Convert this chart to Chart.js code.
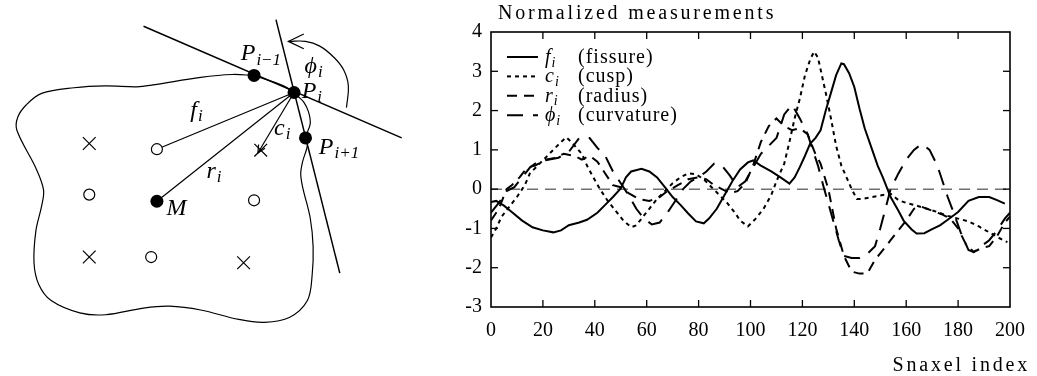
<!DOCTYPE html>
<html>
<head>
<meta charset="utf-8">
<script src="https://cdn.jsdelivr.net/npm/chart.js@4.4.0/dist/chart.umd.min.js"></script>
<style>
  body { margin: 0; background: #fff; }
  #wrap { position: relative; width: 1037px; height: 376px; }
  .pane { position: absolute; top: 0; height: 376px; }
</style>
</head>
<body>
<div id="wrap">
  <div class="pane" style="left:0;width:430px"><canvas id="diagram"></canvas></div>
  <div class="pane" style="left:430px;width:607px"><canvas id="plot"></canvas></div>
</div>
<script>
// ---- right plot: normalized measurements per snaxel index ----
const fissure = [[0,-0.33],[2,-0.3],[5,-0.42],[8,-0.58],[12,-0.8],[16,-0.97],[20,-1.05],[24,-1.1],[27,-1.05],[30,-0.92],[34,-0.85],[37,-0.78],[41,-0.6],[44,-0.4],[47,-0.2],[50,0.02],[52,0.3],[54,0.45],[58,0.52],[61,0.45],[64,0.3],[67,0.05],[70,-0.2],[73,-0.4],[76,-0.62],[79,-0.82],[82,-0.87],[84,-0.75],[87,-0.5],[90,-0.15],[93,0.2],[96,0.5],[99,0.68],[101,0.73],[104,0.6],[108,0.45],[112,0.28],[115,0.14],[117,0.3],[119,0.56],[121,0.85],[123,1.16],[125,1.3],[127,1.5],[129,2.0],[131,2.45],[133,2.9],[135,3.2],[136,3.18],[138,2.95],[140,2.6],[142,2.05],[144,1.55],[147,0.98],[149,0.6],[151,0.3],[154,-0.2],[157,-0.55],[159,-0.8],[162,-1.02],[164,-1.13],[167,-1.12],[170,-1.02],[173,-0.92],[176,-0.78],[180,-0.58],[184,-0.3],[188,-0.2],[192,-0.2],[195,-0.28],[198,-0.37]];
const cusp = [[0,-1.23],[2,-1.0],[4,-0.71],[7,-0.45],[10,-0.2],[13,0.1],[15,0.4],[18,0.6],[21,0.8],[24,1.0],[27,1.2],[29,1.32],[31,1.2],[33,1.05],[35,0.9],[37,0.6],[39,0.35],[42,0.0],[45,-0.3],[48,-0.55],[51,-0.8],[54,-0.97],[56,-0.92],[58,-0.75],[61,-0.5],[64,-0.25],[67,-0.05],[70,0.15],[73,0.3],[76,0.4],[79,0.38],[82,0.25],[85,0.05],[88,-0.15],[91,-0.35],[94,-0.6],[96,-0.8],[99,-0.95],[102,-0.75],[105,-0.5],[108,-0.15],[110,0.2],[113,0.65],[115,1.2],[117,1.8],[119,2.3],[121,2.9],[123,3.3],[124.5,3.5],[126,3.35],[127.5,2.9],[129,2.45],[131,1.8],[133,1.1],[135,0.6],[137,0.3],[139,0.0],[141,-0.25],[143,-0.25],[147,-0.2],[151,-0.15],[154,-0.12],[157,-0.28],[160,-0.35],[164,-0.42],[168,-0.5],[172,-0.58],[176,-0.68],[180,-0.75],[184,-0.82],[188,-0.95],[192,-1.1],[196,-1.25],[199,-1.35]];
const radius = [[0,-0.8],[3,-0.5],[6,0.0],[8,0.1],[11,0.3],[14,0.55],[17,0.6],[21,0.75],[25,0.8],[28,0.9],[32,0.85],[35,0.75],[38,0.85],[41,0.7],[44,0.4],[47,0.1],[50,0.05],[53,-0.1],[57,-0.25],[61,-0.3],[65,-0.2],[68,-0.05],[72,0.1],[76,0.25],[80,0.3],[83,0.25],[86,0.1],[89,0.0],[92,-0.1],[95,-0.05],[98,0.15],[101,0.6],[104,1.2],[107,1.6],[110,1.8],[113,1.6],[116,1.5],[119,1.55],[122,1.4],[125,0.9],[127,0.65],[130,0.0],[133,-1.0],[136,-1.7],[139,-2.1],[142,-2.15],[145,-2.15],[148,-1.8],[151,-1.55],[154,-1.3],[157,-1.05],[160,-0.8],[163,-0.5],[166,-0.45],[170,-0.55],[174,-0.65],[177,-0.75],[180,-1.0],[183,-1.4],[186,-1.6],[189,-1.5],[192,-1.45],[195,-1.2],[198,-0.85],[200,-0.7]];
const curvature = [[0,-0.6],[3,-0.35],[6,-0.05],[9,0.05],[12,0.3],[15,0.55],[18,0.7],[22,0.75],[26,0.8],[30,0.95],[34,1.3],[38,1.3],[41,1.05],[44,0.85],[47,0.45],[50,0.15],[53,-0.15],[56,-0.5],[59,-0.75],[62,-0.9],[65,-0.85],[68,-0.6],[71,-0.3],[74,0.0],[77,0.2],[80,0.3],[83,0.45],[86,0.65],[89,0.6],[92,0.35],[95,0.05],[98,0.2],[101,0.55],[104,0.9],[107,1.1],[110,1.3],[113,1.9],[116,2.15],[119,1.8],[122,1.4],[124,1.0],[126,0.6],[128,0.1],[131,-0.6],[134,-1.3],[136,-1.7],[139,-1.75],[142,-1.75],[145,-1.65],[148,-1.45],[150,-1.0],[152,-0.5],[154,0.0],[157,0.4],[160,0.75],[163,1.0],[166,1.15],[169,1.0],[172,0.6],[174,0.2],[176,-0.2],[178,-0.55],[181,-1.1],[184,-1.55],[186,-1.6],[189,-1.45],[192,-1.3],[195,-1.05],[198,-0.75],[200,-0.6]];
const zeroLevel = [[0,0],[200,0]];
const indexTicks = [0, 20, 40, 60, 80, 100, 120, 140, 160, 180, 200];
const valueTicks = [-3, -2, -1, 0, 1, 2, 3, 4];
const seriesSymbols = ['f', 'c', 'r', '\u03d5'];
const seriesNames = ['(fissure)', '(cusp)', '(radius)', '(curvature)'];

// ---- left diagram: snaxel geometry, in the diagram's own units ----
const blobOutline = [[256,69],[233,68],[200,71],[150,79],[133,81],[100,80],[67,82],[33,88],[17,100],[8,113],[7,127],[27,167],[35,190],[33,207],[27,233],[25,267],[30,290],[43,307],[73,320],[100,322],[140,315],[167,313],[200,317],[240,327],[267,330],[293,325],[312,307],[317,280],[318,250],[315,220],[307,187],[305,173],[307,160],[312,143],[310,135],[315,120],[313,107],[308,97],[302,91],[298,87],[287,80],[256,69]];
const tangentPrev = [[140,17],[411,135]];
const tangentNext = [[279,10],[346,278]];
const snaxelDots = [[256,69],[298,87],[310,135],[154,202]];
const openCircles = [[154,147],[83,195],[256,201],[148,261]];
const crossMarks = [[83,141],[263,148],[83,261],[245,267]];
const fissureRay = [[298,87],[154,147]];
const radiusRay = [[298,87],[154,202]];
const cuspRay = [[298,87],[260,151]];
const angleArc = [[353,103],[355,80],[350,63],[340,50],[325,38],[310,33],[292,33]];
const diagramLabels = [
  ['P', 'i\u22121', 242, 53],
  ['\u03d5', 'i', 309, 66],
  ['P', 'i', 306, 93],
  ['f', 'i', 189, 113],
  ['c', 'i', 277, 132],
  ['P', 'i+1', 324, 152],
  ['r', 'i', 206, 177],
  ['M', '', 164, 217]
];

const SERIF = '"Liberation Serif", "DejaVu Serif", serif';

function pairs(list) {
  return list.map(([x, y]) => ({ x, y }));
}

function arrowHead(tip, from, len) {
  const ang = Math.atan2(from[1] - tip[1], from[0] - tip[0]);
  const spread = 0.45;
  return [
    [tip[0] + len * Math.cos(ang + spread), tip[1] + len * Math.sin(ang + spread)],
    tip,
    [tip[0] + len * Math.cos(ang - spread), tip[1] + len * Math.sin(ang - spread)]
  ];
}

function drawSymbol(ctx, x, y, main, sub, size) {
  ctx.font = `italic ${size}px ${SERIF}`;
  ctx.textAlign = 'left';
  ctx.textBaseline = 'alphabetic';
  ctx.fillText(main, x, y);
  if (!sub) return;
  const w = ctx.measureText(main).width;
  ctx.font = `italic ${Math.round(size * 0.7)}px ${SERIF}`;
  ctx.fillText(sub, x + w + 1, y + size * 0.18);
}

function strokeSeg(ctx, x1, y1, x2, y2) {
  ctx.beginPath();
  ctx.moveTo(x1, y1);
  ctx.lineTo(x2, y2);
  ctx.stroke();
}

// ---------- diagram ----------
function lineSet(points, width, tension) {
  return {
    data: pairs(points), showLine: true, pointRadius: 0,
    borderColor: '#000', borderWidth: width, tension: tension || 0
  };
}

const diagramLabelPlugin = {
  id: 'diagramLabels',
  afterDatasetsDraw(chart) {
    const { ctx, scales: { x, y } } = chart;
    ctx.save();
    ctx.fillStyle = '#000';
    diagramLabels.forEach(([main, sub, lx, ly]) => {
      drawSymbol(ctx, x.getPixelForValue(lx), y.getPixelForValue(ly), main, sub, 24);
    });
    ctx.restore();
  }
};

new Chart(document.getElementById('diagram'), {
  type: 'scatter',
  data: {
    datasets: [
      { data: pairs(snaxelDots), pointRadius: 6.5, pointStyle: 'circle',
        backgroundColor: '#000', borderColor: '#000', borderWidth: 0 },
      { data: pairs(openCircles), pointRadius: 5.5, pointStyle: 'circle',
        backgroundColor: '#fff', borderColor: '#000', borderWidth: 1.2 },
      { data: pairs(crossMarks), pointRadius: 9, pointStyle: 'crossRot',
        borderColor: '#000', borderWidth: 1.2 },
      lineSet(arrowHead(cuspRay[1], cuspRay[0], 9), 1.2),
      lineSet(arrowHead(angleArc[angleArc.length - 1], angleArc[angleArc.length - 2], 18), 1.2),
      lineSet(angleArc, 1.2, 0.4),
      lineSet(fissureRay, 1.2),
      lineSet(radiusRay, 1.2),
      lineSet(cuspRay, 1.2),
      lineSet(tangentPrev, 1.5),
      lineSet(tangentNext, 1.5),
      lineSet(blobOutline, 1.2, 0.35)
    ]
  },
  options: {
    responsive: true,
    maintainAspectRatio: false,
    animation: false,
    layout: { padding: 0 },
    plugins: { legend: { display: false }, tooltip: { enabled: false } },
    scales: {
      x: { type: 'linear', min: 0, max: 430, display: false },
      y: { type: 'linear', min: 0, max: 376, reverse: true, display: false }
    }
  },
  plugins: [diagramLabelPlugin]
});

// ---------- measurement plot ----------
const dashes = [[], [4, 4], [10, 7], [16, 10]];

const framePlugin = {
  id: 'frame',
  afterDraw(chart) {
    const { ctx, chartArea: a, scales: { x, y } } = chart;
    ctx.save();
    ctx.strokeStyle = '#000';
    ctx.lineWidth = 1.6;
    ctx.strokeRect(a.left, a.top, a.right - a.left, a.bottom - a.top);
    ctx.lineWidth = 1.3;
    indexTicks.slice(1, -1).forEach(v => {
      const px = x.getPixelForValue(v);
      strokeSeg(ctx, px, a.bottom, px, a.bottom - 7);
      strokeSeg(ctx, px, a.top, px, a.top + 7);
    });
    valueTicks.slice(1, -1).forEach(v => {
      const py = y.getPixelForValue(v);
      strokeSeg(ctx, a.left, py, a.left + 7, py);
      strokeSeg(ctx, a.right, py, a.right - 7, py);
    });

    // titles
    ctx.fillStyle = '#000';
    ctx.font = `20px ${SERIF}`;
    ctx.letterSpacing = '2.8px';
    ctx.textBaseline = 'alphabetic';
    ctx.textAlign = 'left';
    ctx.fillText('Normalized measurements', a.left + 7, 19);
    ctx.textAlign = 'right';
    ctx.fillText('Snaxel index', a.right + 20, 371);
    ctx.restore();
  }
};

const keyPlugin = {
  id: 'seriesKey',
  afterDatasetsDraw(chart) {
    const { ctx, chartArea: a } = chart;
    ctx.save();
    seriesSymbols.forEach((sym, i) => {
      const rowY = a.top + 25 + i * 19.4;
      ctx.strokeStyle = '#000';
      ctx.lineWidth = 2;
      ctx.setLineDash(dashes[i]);
      strokeSeg(ctx, a.left + 16, rowY, a.left + 47, rowY);
      ctx.setLineDash([]);
      ctx.fillStyle = '#000';
      drawSymbol(ctx, a.left + 54, rowY + 6, sym, 'i', 20);
      ctx.font = `20px ${SERIF}`;
      ctx.letterSpacing = '1px';
      ctx.fillText(seriesNames[i], a.left + 87, rowY + 6);
      ctx.letterSpacing = '0px';
    });
    ctx.restore();
  }
};

function seriesSet(points, dash) {
  return {
    data: pairs(points), showLine: true, pointRadius: 0,
    borderColor: '#000', borderWidth: 2, borderDash: dash, order: 1
  };
}

new Chart(document.getElementById('plot'), {
  type: 'scatter',
  data: {
    datasets: [
      seriesSet(fissure, dashes[0]),
      seriesSet(cusp, dashes[1]),
      seriesSet(radius, dashes[2]),
      seriesSet(curvature, dashes[3]),
      { data: pairs(zeroLevel), showLine: true, pointRadius: 0,
        borderColor: '#707070', borderWidth: 1.5, borderDash: [11, 7], order: 5 }
    ]
  },
  options: {
    responsive: true,
    maintainAspectRatio: false,
    animation: false,
    layout: { padding: { top: 32, right: 27, left: 0, bottom: 0 } },
    plugins: { legend: { display: false }, tooltip: { enabled: false } },
    scales: {
      x: {
        type: 'linear', min: 0, max: 200,
        afterBuildTicks: s => { s.ticks = indexTicks.map(v => ({ value: v })); },
        afterFit: s => { s.height = 69; },
        grid: { display: false, drawTicks: false },
        border: { display: false },
        ticks: { color: '#000', font: { family: SERIF, size: 20 }, padding: 12,
                 maxRotation: 0, callback: v => String(v) }
      },
      y: {
        type: 'linear', min: -3, max: 4,
        afterBuildTicks: s => { s.ticks = valueTicks.map(v => ({ value: v })); },
        afterFit: s => { s.width = 61; },
        grid: { display: false, drawTicks: false },
        border: { display: false },
        ticks: { color: '#000', font: { family: SERIF, size: 20 }, padding: 9,
                 callback: v => String(v) }
      }
    }
  },
  plugins: [framePlugin, keyPlugin]
});
</script>
</body>
</html>
